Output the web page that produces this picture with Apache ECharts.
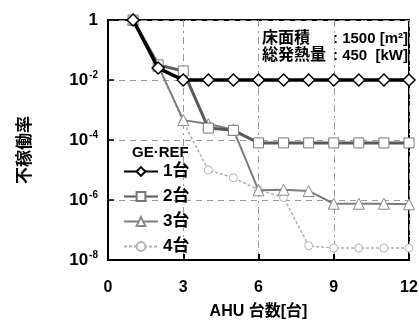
<!DOCTYPE html>
<html lang="ja">
<head>
<meta charset="utf-8">
<title>不稼働率</title>
<script src="https://cdn.jsdelivr.net/npm/echarts@6/dist/echarts.min.js"></script>
<style>
  html, body { margin: 0; padding: 0; background: #fff; }
  #main { width: 419px; height: 320px; }
</style>
</head>
<body>
<div id="main"></div>
<script>
// AHU台数 (x) と GE・REF 台数ごとの不稼働率
var ahuCount = [1, 2, 3, 4, 5, 6, 7, 8, 9, 10, 11, 12];
var ref1 = [1, 0.025, 0.01, 0.01, 0.01, 0.01, 0.01, 0.01, 0.01, 0.01, 0.01, 0.01];
var ref2 = [1, 0.032, 0.02, 2.5e-4, 2.1e-4, 8e-5, 8e-5, 8e-5, 8e-5, 8e-5, 8e-5, 8e-5];
var ref3 = [1, 0.03, 4.6e-4, 3.4e-4, 2.2e-4, 2.1e-6, 2.2e-6, 2e-6, 7.5e-7, 7.5e-7, 7.5e-7, 7.2e-7];
var ref4 = [1, 0.03, 4e-4, 1e-5, 5.5e-6, 2.2e-6, 1.2e-6, 3e-8, 2.5e-8, 2.5e-8, 2.5e-8, 2.5e-8];
var seriesNames = ['1台', '2台', '3台', '4台'];
var xTicks = [0, 3, 6, 9, 12];
var yExps = [0, -2, -4, -6, -8];

var FONT = "'Liberation Sans', 'Noto Sans CJK JP', sans-serif";

function pairs(vals) {
  return ahuCount.map(function (x, i) { return [x, vals[i]]; });
}

var chart = echarts.init(document.getElementById('main'));

chart.setOption({
  animation: false,
  backgroundColor: '#fff',
  grid: {
    left: 108, right: 10, top: 20, bottom: 60,
    outerBoundsMode: 'none',
    show: true, borderColor: '#000', borderWidth: 2
  },
  xAxis: {
    type: 'value',
    min: xTicks[0], max: xTicks[xTicks.length - 1], interval: 3,
    name: 'AHU 台数[台]',
    nameLocation: 'middle',
    nameGap: 44,
    nameTextStyle: { fontFamily: FONT, fontSize: 16, fontWeight: 'bold', color: '#000' },
    axisLine: { lineStyle: { color: '#000', width: 2 } },
    axisTick: { inside: true, length: 6, lineStyle: { color: '#000', width: 2 } },
    axisLabel: { margin: 20, fontFamily: FONT, fontSize: 16, fontWeight: 'bold', color: '#000' },
    splitLine: { show: true, lineStyle: { color: '#999', width: 1, type: [7, 4, 2, 4] } }
  },
  yAxis: {
    type: 'log',
    logBase: 10,
    min: Math.pow(10, yExps[yExps.length - 1]), max: Math.pow(10, yExps[0]),
    interval: 2,
    axisLine: { lineStyle: { color: '#000', width: 2 } },
    axisTick: { inside: true, length: 6, lineStyle: { color: '#000', width: 1.5 } },
    axisLabel: {
      margin: 10,
      formatter: function (v) {
        var e = Math.round(Math.log(v) / Math.LN10);
        if (e === 0) return '{b|1}';
        return '{b|10}{s|' + e + '}';
      },
      rich: {
        b: { fontFamily: FONT, fontSize: 17, fontWeight: 'bold', color: '#000' },
        s: { fontFamily: FONT, fontSize: 10, fontWeight: 'bold', color: '#000', padding: [0, 0, 9, 1] }
      }
    },
    splitLine: { show: true, lineStyle: { color: '#999', width: 1, type: [6, 5] } }
  },
  legend: {
    orient: 'vertical',
    left: 123, top: 163, padding: 0,
    itemWidth: 34, itemHeight: 11, itemGap: 8,
    textStyle: { fontFamily: FONT, fontSize: 17, lineHeight: 17, fontWeight: 'bold', color: '#000' },
    data: seriesNames
  },
  graphic: [
    {
      type: 'text', left: 132, top: 145,
      style: { text: 'GE·REF', fontFamily: FONT, fontSize: 15, fontWeight: 'bold', fill: '#000' }
    },
    {
      type: 'text', x: 25, y: 150, rotation: Math.PI / 2,
      style: { text: '不稼働率', fontFamily: FONT, fontSize: 17, fontWeight: 'bold', fill: '#000', align: 'center', verticalAlign: 'middle' }
    },
    {
      type: 'text', left: 262, top: 31,
      style: {
        text: '{a|床面積}{b|: 1500 [m²]}\n{a|総発熱量}{b|: 450  [kW]}',
        rich: {
          a: { width: 71, fontFamily: FONT, fontSize: 16, fontWeight: 'bold', fill: '#000', lineHeight: 17 },
          b: { fontFamily: FONT, fontSize: 15, fontWeight: 'bold', fill: '#000', lineHeight: 17 }
        }
      }
    }
  ],
  series: [
    {
      name: seriesNames[0], type: 'line', z: 6,
      data: pairs(ref1),
      symbol: 'diamond', symbolSize: 12,
      itemStyle: { color: '#fff', borderColor: '#000', borderWidth: 1.5 },
      lineStyle: { color: '#000', width: 3.5 }
    },
    {
      name: seriesNames[1], type: 'line', z: 5,
      data: pairs(ref2),
      symbol: 'rect', symbolSize: 10,
      itemStyle: { color: '#fff', borderColor: '#777', borderWidth: 1 },
      lineStyle: { color: '#5a5a5a', width: 3 }
    },
    {
      name: seriesNames[2], type: 'line', z: 4,
      data: pairs(ref3),
      symbol: 'triangle', symbolSize: 11,
      itemStyle: { color: '#fff', borderColor: '#8a8a8a', borderWidth: 1 },
      lineStyle: { color: '#7d7d7d', width: 2 }
    },
    {
      name: seriesNames[3], type: 'line', z: 3,
      data: pairs(ref4),
      symbol: 'circle', symbolSize: 8,
      itemStyle: { color: '#fff', borderColor: '#b5b5b5', borderWidth: 1 },
      lineStyle: { color: '#b0b0b0', width: 1.5, type: [3, 2] }
    }
  ]
});
</script>
</body>
</html>
